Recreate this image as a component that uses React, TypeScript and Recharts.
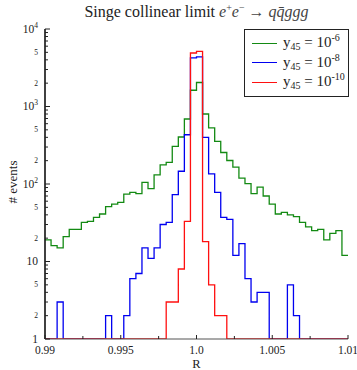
import { LineChart, Line, XAxis, YAxis, Legend, Label } from 'recharts';

// bin edges of the histogram (50 bins of width 0.0004)
const BIN_EDGES = [
  0.99, 0.9904, 0.9908, 0.9912, 0.9916, 0.992, 0.9924, 0.9928, 0.9932, 0.9936,
  0.994, 0.9944, 0.9948, 0.9952, 0.9956, 0.996, 0.9964, 0.9968, 0.9972, 0.9976,
  0.998, 0.9984, 0.9988, 0.9992, 0.9996, 1.0, 1.0004, 1.0008, 1.0012, 1.0016,
  1.002, 1.0024, 1.0028, 1.0032, 1.0036, 1.004, 1.0044, 1.0048, 1.0052, 1.0056,
  1.006, 1.0064, 1.0068, 1.0072, 1.0076, 1.008, 1.0084, 1.0088, 1.0092, 1.0096,
  1.01
];

// counts per bin, y45 = 1e-6
const GREEN = [
  19, 16, 15, 21, 26, 26, 32, 33, 37, 41,
  51, 55, 58, 74, 78, 75, 105, 87, 131, 177,
  190, 305, 404, 690, 1620, 2040, 800, 530, 354, 255,
  201, 165, 119, 101, 75, 91, 70, 55, 41, 43,
  40, 38, 32, 28, 25, 26, 19, 23, 25, 12
];

// y45 = 1e-8
const BLUE = [
  0, 0, 3, 0, 0, 0, 0, 0, 0, 0,
  2, 0, 0, 2, 6, 7, 15, 11, 15, 30,
  32, 73, 146, 432, 4230, 4360, 400, 135, 78, 37,
  35, 12, 17, 6, 3, 4, 4, 0, 0, 0,
  5, 2, 0, 0, 0, 0, 0, 0, 0, 0
];

// y45 = 1e-10
const RED = [
  0, 0, 0, 0, 0, 0, 0, 0, 0, 0,
  0, 0, 0, 0, 0, 0, 0, 0, 0, 0,
  3, 3, 8, 33, 4900, 5150, 18, 5, 2, 2,
  0, 0, 0, 0, 0, 0, 0, 0, 0, 0,
  0, 0, 0, 0, 0, 0, 0, 0, 0, 0
];

const SERIES = [
  { key: 'g', exp: '-6', color: '#138a13' },
  { key: 'b', exp: '-8', color: '#0000f0' },
  { key: 'r', exp: '-10', color: '#ff1010' }
];

const X_TICKS = [0.99, 0.9925, 0.995, 0.9975, 1.0, 1.0025, 1.005, 1.0075, 1.01];
const X_TICK_LABELS = ['0.99', '', '0.995', '', '1.0', '', '1.005', '', '1.01'];

const Y_TICKS = [
  1, 2, 3, 4, 5, 6, 7, 8, 9,
  10, 20, 30, 40, 50, 60, 70, 80, 90,
  100, 200, 300, 400, 500, 600, 700, 800, 900,
  1000, 2000, 3000, 4000, 5000, 6000, 7000, 8000, 9000,
  10000
];
const Y_TICK_LABELS = [
  '1', '2', '', '', '5', '', '', '', '',
  '10', '2', '', '', '5', '', '', '', '',
  '10^2', '2', '', '', '5', '', '', '', '',
  '10^3', '2', '', '', '5', '', '', '', '',
  '10^4'
];

const FONT = "'Liberation Serif', 'Times New Roman', Times, 'DejaVu Serif', serif";
const LEFT = 45;
const RIGHT = 348;
const TOP = 29;
const BOTTOM = 339;

// empty bins sit on the baseline of the log axis
const floor = (v: number) => Math.max(v, 1);
const last = GREEN.length - 1;
const data = BIN_EDGES.map((x, i) => ({
  x,
  g: floor(GREEN[Math.min(i, last)]),
  b: floor(BLUE[Math.min(i, last)]),
  r: floor(RED[Math.min(i, last)])
}));

function LeftTick(props: any) {
  const { y, payload } = props;
  const label = Y_TICK_LABELS[Y_TICKS.indexOf(payload.value)] || '';
  const major = label.startsWith('1');
  const len = major ? 5 : 3;
  const [base, exp] = label.split('^');
  return (
    <g>
      <line x1={LEFT} x2={LEFT + len} y1={y} y2={y} stroke="#222" strokeWidth={1} />
      {label && (
        <text
          x={38}
          y={y + (major ? 3.5 : 2.5)}
          textAnchor="end"
          fontFamily={FONT}
          fontSize={major ? 11.5 : 7.5}
          fill="#222"
        >
          {base}
          {exp && (
            <tspan dy={-5} fontSize={7.5}>
              {exp}
            </tspan>
          )}
        </text>
      )}
    </g>
  );
}

function RightTick(props: any) {
  const { y, payload } = props;
  const label = Y_TICK_LABELS[Y_TICKS.indexOf(payload.value)] || '';
  const len = label.startsWith('1') ? 5 : 3;
  return <line x1={RIGHT} x2={RIGHT - len} y1={y} y2={y} stroke="#333" strokeWidth={1} />;
}

function BottomTick(props: any) {
  const { x, payload } = props;
  const label = X_TICK_LABELS[X_TICKS.indexOf(payload.value)] || '';
  return (
    <g>
      <line x1={x} x2={x} y1={BOTTOM} y2={BOTTOM - (label ? 4 : 3)} stroke="#222" />
      {label && (
        <text x={x} y={354} textAnchor="middle" fontFamily={FONT} fontSize={11.5} fill="#222">
          {label}
        </text>
      )}
    </g>
  );
}

function TopTick(props: any) {
  const { x, payload } = props;
  const label = X_TICK_LABELS[X_TICKS.indexOf(payload.value)] || '';
  return <line x1={x} x2={x} y1={TOP} y2={TOP + (label ? 4 : 3)} stroke="#222" />;
}

function LegendBox() {
  return (
    <div
      style={{
        border: '1px solid #222',
        background: '#fff',
        width: 103,
        height: 66,
        fontFamily: FONT,
        color: '#222',
        boxSizing: 'content-box'
      }}
    >
      {SERIES.map((s, i) => (
        <div
          key={s.key}
          style={{
            position: 'absolute',
            left: 0,
            top: 4 + i * 19.5,
            height: 20,
            display: 'flex',
            alignItems: 'center'
          }}
        >
          <span style={{ display: 'inline-block', width: 25, height: 0, borderTop: `1.3px solid ${s.color}`, marginLeft: 8 }} />
          <span style={{ marginLeft: 6, fontSize: 15, lineHeight: '20px', whiteSpace: 'nowrap' }}>
            y<span style={{ fontSize: 10, position: 'relative', top: 3 }}>45</span> = 10
            <span style={{ fontSize: 10, position: 'relative', top: -6 }}>{s.exp}</span>
          </span>
        </div>
      ))}
    </div>
  );
}

export default function App() {
  return (
    <div style={{ position: 'absolute', left: 0, top: 0, width: 357, height: 370, background: '#fff' }}>
      <div
        style={{
          position: 'absolute',
          left: 0,
          top: 3,
          width: 393,
          textAlign: 'center',
          fontFamily: FONT,
          fontSize: 16,
          lineHeight: '18px',
          color: '#222',
          whiteSpace: 'nowrap',
          zIndex: 2
        }}
      >
        Singe collinear limit{' '}
        <span style={{ color: '#444' }}>
          <i>e</i>
          <sup style={{ fontSize: 10, lineHeight: 0 }}>+</sup>
          <i>e</i>
          <sup style={{ fontSize: 10, lineHeight: 0 }}>−</sup> → <i>q{'q\u0304'}ggg</i>
        </span>
      </div>
      <LineChart width={357} height={370} data={data} margin={{ top: TOP, right: 9, bottom: 0, left: 5 }}>
        <XAxis
          dataKey="x"
          type="number"
          domain={[0.99, 1.01]}
          allowDataOverflow
          ticks={X_TICKS}
          interval={0}
          tick={<BottomTick />}
          tickLine={false}
          height={31}
          axisLine={{ stroke: '#555', strokeWidth: 1.2 }}
        >
          <Label
            content={() => (
              <text x={196.5} y={368} textAnchor="middle" fontFamily={FONT} fontSize={12.5} fill="#222">
                R
              </text>
            )}
          />
        </XAxis>
        <XAxis
          xAxisId="top"
          orientation="top"
          type="number"
          domain={[0.99, 1.01]}
          allowDataOverflow
          ticks={X_TICKS}
          interval={0}
          tick={<TopTick />}
          tickLine={false}
          height={0}
          axisLine={{ stroke: '#333', strokeWidth: 1.3 }}
        />
        <YAxis
          scale="log"
          domain={[1, 10000]}
          allowDataOverflow
          ticks={Y_TICKS}
          interval={0}
          tick={<LeftTick />}
          tickLine={false}
          width={40}
          axisLine={{ stroke: '#111', strokeWidth: 1.6 }}
        >
          <Label
            content={() => (
              <text
                x={17}
                y={182}
                transform="rotate(-90 17 182)"
                textAnchor="middle"
                fontFamily={FONT}
                fontSize={13}
                fill="#222"
              >
                # events
              </text>
            )}
          />
        </YAxis>
        <YAxis
          yAxisId="right"
          orientation="right"
          scale="log"
          domain={[1, 10000]}
          allowDataOverflow
          ticks={Y_TICKS}
          interval={0}
          tick={<RightTick />}
          tickLine={false}
          width={0}
          axisLine={{ stroke: '#666', strokeWidth: 1.2 }}
        />
        <Legend
          layout="vertical"
          align="center"
          verticalAlign="middle"
          content={() => <LegendBox />}
          wrapperStyle={{ position: 'absolute', top: TOP, left: 244, width: 105, height: 68, right: 'auto', bottom: 'auto' }}
        />
        {SERIES.map((s) => (
          <Line
            key={s.key}
            dataKey={s.key}
            type="stepAfter"
            stroke={s.color}
            strokeWidth={1.3}
            dot={false}
            activeDot={false}
            isAnimationActive={false}
          />
        ))}
      </LineChart>
    </div>
  );
}
